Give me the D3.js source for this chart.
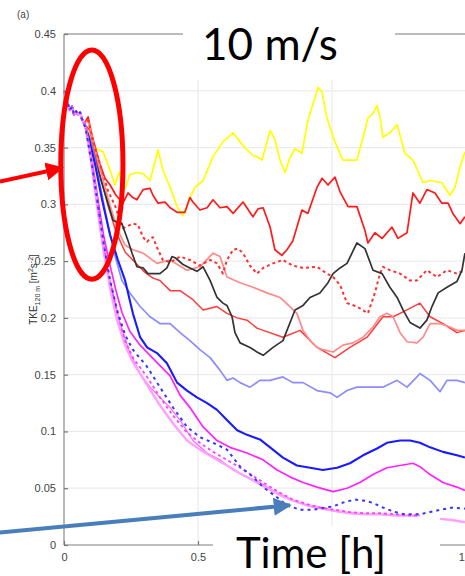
<!DOCTYPE html>
<html>
<head>
<meta charset="utf-8">
<script src="https://cdn.jsdelivr.net/npm/d3@7"></script>
<style>
  html, body { margin: 0; padding: 0; background: #fff; }
  svg { display: block; }
</style>
</head>
<body>
<svg id="chart" width="465" height="576"></svg>
<script>
// TKE at 120 m [m^2 s^-2] against time [h]; every run shares the same spin-up segment.
const startTKE = [[0,0.400],[0.007,0.394],[0.015,0.388],[0.022,0.383],[0.03,0.386],[0.037,0.379],[0.045,0.382],[0.052,0.379],[0.06,0.381],[0.067,0.375],[0.075,0.371]];

const yellowTKE = [[0.09,0.367],[0.108,0.352],[0.123,0.349],[0.146,0.346],[0.172,0.330],[0.19,0.317],[0.205,0.328],[0.228,0.314],[0.246,0.326],[0.272,0.328],[0.295,0.327],[0.321,0.321],[0.351,0.348],[0.369,0.330],[0.396,0.315],[0.422,0.298],[0.444,0.290],[0.47,0.306],[0.489,0.315],[0.519,0.321],[0.556,0.342],[0.593,0.355],[0.631,0.363],[0.657,0.355],[0.683,0.348],[0.705,0.343],[0.72,0.342],[0.739,0.339],[0.769,0.365],[0.787,0.357],[0.806,0.339],[0.825,0.328],[0.843,0.341],[0.862,0.349],[0.888,0.345],[0.91,0.374],[0.937,0.394],[0.948,0.403],[0.963,0.399],[0.981,0.376],[1.011,0.355],[1.041,0.339],[1.093,0.339],[1.116,0.359],[1.134,0.376],[1.153,0.380],[1.168,0.387],[1.179,0.377],[1.19,0.359],[1.216,0.363],[1.243,0.370],[1.272,0.345],[1.302,0.339],[1.34,0.319],[1.366,0.321],[1.41,0.319],[1.44,0.308],[1.459,0.315],[1.478,0.333],[1.496,0.346]];

const redTKE = [[0.09,0.377],[0.104,0.361],[0.119,0.348],[0.134,0.335],[0.153,0.323],[0.172,0.317],[0.194,0.308],[0.22,0.301],[0.239,0.31],[0.257,0.306],[0.272,0.304],[0.295,0.313],[0.321,0.314],[0.332,0.308],[0.351,0.301],[0.377,0.302],[0.396,0.297],[0.422,0.293],[0.451,0.293],[0.47,0.306],[0.481,0.302],[0.507,0.295],[0.534,0.297],[0.556,0.304],[0.582,0.297],[0.608,0.298],[0.631,0.292],[0.668,0.302],[0.705,0.289],[0.724,0.296],[0.743,0.297],[0.769,0.28],[0.787,0.26],[0.813,0.255],[0.832,0.26],[0.854,0.268],[0.888,0.295],[0.91,0.292],[0.944,0.315],[0.963,0.323],[0.985,0.317],[1.011,0.324],[1.03,0.311],[1.06,0.298],[1.093,0.298],[1.123,0.277],[1.134,0.266],[1.16,0.275],[1.187,0.270],[1.224,0.280],[1.246,0.270],[1.28,0.275],[1.302,0.310],[1.328,0.301],[1.354,0.313],[1.384,0.310],[1.41,0.301],[1.433,0.301],[1.451,0.292],[1.478,0.283],[1.496,0.289]];

const redDottedTKE = [[0.09,0.374],[0.116,0.349],[0.142,0.33],[0.164,0.312],[0.19,0.299],[0.22,0.279],[0.257,0.283],[0.276,0.282],[0.295,0.271],[0.31,0.267],[0.321,0.27],[0.332,0.271],[0.347,0.262],[0.369,0.251],[0.396,0.249],[0.433,0.254],[0.47,0.251],[0.507,0.246],[0.545,0.251],[0.571,0.248],[0.593,0.239],[0.608,0.251],[0.631,0.26],[0.649,0.261],[0.668,0.257],[0.694,0.246],[0.72,0.239],[0.743,0.244],[0.78,0.248],[0.817,0.251],[0.854,0.246],[0.892,0.244],[0.944,0.245],[0.981,0.239],[1.004,0.236],[1.03,0.229],[1.056,0.213],[1.093,0.21],[1.134,0.204],[1.16,0.222],[1.179,0.239],[1.19,0.245],[1.216,0.242],[1.254,0.239],[1.291,0.233],[1.317,0.233],[1.354,0.242],[1.392,0.236],[1.429,0.242],[1.466,0.239],[1.496,0.242]];

const paleRedTKE = [[0.09,0.374],[0.116,0.348],[0.146,0.321],[0.172,0.299],[0.201,0.277],[0.228,0.264],[0.257,0.26],[0.295,0.257],[0.347,0.248],[0.396,0.251],[0.459,0.242],[0.507,0.245],[0.556,0.257],[0.582,0.254],[0.608,0.236],[0.657,0.231],[0.705,0.227],[0.757,0.222],[0.806,0.218],[0.843,0.21],[0.869,0.204],[0.892,0.189],[0.918,0.18],[0.944,0.174],[0.966,0.172],[1.004,0.17],[1.041,0.176],[1.078,0.178],[1.116,0.183],[1.153,0.192],[1.179,0.201],[1.205,0.204],[1.228,0.201],[1.254,0.187],[1.28,0.179],[1.317,0.178],[1.34,0.183],[1.366,0.195],[1.403,0.195],[1.44,0.192],[1.466,0.189],[1.496,0.189]];

const midRedTKE = [[0.097,0.365],[0.134,0.326],[0.164,0.299],[0.194,0.276],[0.228,0.258],[0.265,0.249],[0.302,0.24],[0.332,0.235],[0.358,0.233],[0.396,0.224],[0.433,0.224],[0.481,0.216],[0.519,0.207],[0.571,0.21],[0.608,0.204],[0.646,0.2],[0.683,0.198],[0.72,0.191],[0.743,0.189],[0.817,0.183],[0.881,0.189],[0.944,0.174],[1.011,0.165],[1.067,0.174],[1.131,0.183],[1.19,0.201],[1.228,0.201],[1.28,0.207],[1.328,0.213],[1.366,0.201],[1.414,0.195],[1.466,0.187],[1.496,0.189]];

const blackTKE = [[0.097,0.357],[0.116,0.339],[0.127,0.33],[0.146,0.315],[0.164,0.301],[0.183,0.286],[0.201,0.284],[0.216,0.283],[0.239,0.268],[0.254,0.257],[0.272,0.245],[0.295,0.244],[0.313,0.239],[0.358,0.239],[0.384,0.244],[0.403,0.254],[0.414,0.253],[0.444,0.247],[0.47,0.244],[0.496,0.241],[0.519,0.245],[0.545,0.233],[0.571,0.218],[0.593,0.213],[0.608,0.211],[0.627,0.201],[0.638,0.187],[0.657,0.178],[0.694,0.174],[0.72,0.17],[0.743,0.167],[0.78,0.174],[0.817,0.18],[0.862,0.207],[0.892,0.211],[0.918,0.218],[0.955,0.222],[0.985,0.231],[1.004,0.239],[1.03,0.244],[1.056,0.248],[1.093,0.266],[1.123,0.261],[1.153,0.242],[1.187,0.239],[1.216,0.227],[1.243,0.218],[1.265,0.207],[1.291,0.196],[1.328,0.191],[1.354,0.198],[1.373,0.21],[1.396,0.222],[1.429,0.227],[1.466,0.232],[1.485,0.242],[1.496,0.257]];

const paleBlueTKE = [[0.097,0.357],[0.119,0.335],[0.142,0.308],[0.164,0.282],[0.19,0.255],[0.216,0.233],[0.246,0.222],[0.284,0.21],[0.321,0.201],[0.358,0.195],[0.396,0.195],[0.433,0.187],[0.47,0.18],[0.507,0.172],[0.545,0.165],[0.582,0.154],[0.608,0.145],[0.631,0.147],[0.657,0.143],[0.694,0.139],[0.731,0.145],[0.769,0.145],[0.817,0.148],[0.854,0.143],[0.892,0.143],[0.944,0.136],[0.993,0.134],[1.019,0.13],[1.056,0.136],[1.093,0.139],[1.142,0.139],[1.19,0.139],[1.243,0.145],[1.28,0.139],[1.317,0.148],[1.328,0.151],[1.366,0.145],[1.403,0.135],[1.429,0.145],[1.466,0.145],[1.496,0.143]];

const blueTKE = [[0.09,0.361],[0.116,0.335],[0.142,0.304],[0.172,0.273],[0.201,0.251],[0.228,0.233],[0.257,0.204],[0.284,0.183],[0.31,0.174],[0.347,0.169],[0.384,0.16],[0.422,0.143],[0.459,0.136],[0.496,0.13],[0.534,0.125],[0.571,0.119],[0.608,0.11],[0.646,0.101],[0.683,0.097],[0.731,0.093],[0.769,0.086],[0.817,0.077],[0.869,0.07],[0.918,0.068],[0.966,0.066],[1.019,0.068],[1.067,0.072],[1.116,0.079],[1.168,0.085],[1.205,0.09],[1.254,0.092],[1.291,0.092],[1.328,0.09],[1.366,0.086],[1.414,0.082],[1.466,0.079],[1.496,0.077]];

const magentaTKE = [[0.082,0.367],[0.104,0.339],[0.127,0.304],[0.149,0.271],[0.172,0.246],[0.194,0.224],[0.216,0.205],[0.246,0.188],[0.284,0.176],[0.321,0.167],[0.358,0.158],[0.396,0.149],[0.433,0.132],[0.47,0.121],[0.519,0.104],[0.571,0.092],[0.619,0.086],[0.683,0.081],[0.743,0.075],[0.795,0.066],[0.843,0.06],[0.892,0.055],[0.944,0.051],[1.004,0.047],[1.056,0.05],[1.104,0.055],[1.153,0.062],[1.205,0.068],[1.254,0.07],[1.302,0.072],[1.328,0.069],[1.366,0.062],[1.414,0.055],[1.466,0.051],[1.496,0.048]];

const blueDottedTKE = [[0.082,0.365],[0.104,0.335],[0.127,0.299],[0.149,0.264],[0.172,0.233],[0.198,0.207],[0.228,0.185],[0.257,0.172],[0.31,0.157],[0.358,0.139],[0.407,0.121],[0.459,0.104],[0.507,0.095],[0.556,0.09],[0.608,0.084],[0.657,0.069],[0.705,0.06],[0.743,0.051],[0.795,0.042],[0.832,0.035],[0.881,0.031],[0.929,0.031],[0.974,0.033],[1.004,0.034],[1.049,0.038],[1.086,0.04],[1.123,0.039],[1.153,0.037],[1.19,0.033],[1.235,0.029],[1.272,0.027],[1.328,0.027],[1.366,0.029],[1.403,0.031],[1.451,0.033],[1.496,0.032]];

const magentaDottedTKE = [[0.082,0.367],[0.104,0.338],[0.127,0.299],[0.149,0.264],[0.172,0.232],[0.198,0.205],[0.228,0.18],[0.257,0.165],[0.31,0.148],[0.358,0.13],[0.407,0.114],[0.459,0.099],[0.507,0.09],[0.556,0.082],[0.608,0.075],[0.657,0.068],[0.705,0.061],[0.757,0.053],[0.806,0.046],[0.854,0.04],[0.907,0.036],[0.955,0.033],[1.011,0.031],[1.067,0.029],[1.123,0.028],[1.179,0.028],[1.235,0.027],[1.291,0.026],[1.328,0.026]];

const paleMagentaTKE = [[0.082,0.366],[0.104,0.335],[0.127,0.295],[0.149,0.258],[0.172,0.226],[0.198,0.198],[0.228,0.176],[0.257,0.161],[0.31,0.141],[0.358,0.123],[0.407,0.107],[0.459,0.092],[0.507,0.084],[0.556,0.077],[0.608,0.07],[0.657,0.063],[0.705,0.057],[0.757,0.05],[0.806,0.044],[0.854,0.039],[0.907,0.035],[0.955,0.033],[1.011,0.03],[1.067,0.028],[1.123,0.027],[1.179,0.027],[1.235,0.026],[1.291,0.026],[1.328,0.026],null,[1.403,0.023],[1.448,0.022],[1.496,0.02]];

const lightMagentaTKE = [[0.082,0.366],[0.104,0.33],[0.127,0.29],[0.149,0.255],[0.172,0.233],[0.209,0.195],[0.246,0.169],[0.284,0.151],[0.321,0.139],[0.358,0.13],[0.396,0.121],[0.433,0.11],[0.481,0.092],[0.534,0.081],[0.582,0.075],[0.631,0.066],[0.683,0.06],[0.731,0.055],[0.78,0.048],[0.832,0.042],[0.881,0.037],[0.929,0.033],[0.981,0.031],[1.03,0.029],[1.086,0.028],[1.142,0.027],[1.198,0.027],[1.254,0.026],[1.328,0.026]];

const yTicks = [0, 0.05, 0.1, 0.15, 0.2, 0.25, 0.3, 0.35, 0.4, 0.45];
const xTicks = [0, 0.5, 1, 1.5];
// the "1" label sits under the time caption, so only these are lettered
const xTickLabels = [0, 0.5, 1.5];

// Line styles, back to front
const series = [
  { data: yellowTKE,        color: "#ffff00", width: 1.7 },
  { data: redTKE,           color: "#ff1a1a", width: 1.7 },
  { data: midRedTKE,        color: "#ff3b3b", width: 1.5 },
  { data: paleRedTKE,       color: "#ff8a8a", width: 1.7 },
  { data: redDottedTKE,     color: "#ff3030", width: 2,   dash: "3,3" },
  { data: blackTKE,         color: "#333333", width: 1.7 },
  { data: paleBlueTKE,      color: "#8c8cff", width: 1.7 },
  { data: blueTKE,          color: "#1a1aff", width: 2.1 },
  { data: magentaTKE,       color: "#ff22ff", width: 1.7 },
  { data: lightMagentaTKE,  color: "#ff66ff", width: 1.2 },
  { data: paleMagentaTKE,   color: "#ffa0ff", width: 2.4 },
  { data: magentaDottedTKE, color: "#ff40ff", width: 1.8, dash: "3,3" },
  { data: blueDottedTKE,    color: "#3535ff", width: 2,   dash: "3,4" }
];

const svg = d3.select("#chart");
const x = d3.scaleLinear().domain([0, 1.5]).range([64, 466]);
const y = d3.scaleLinear().domain([0, 0.45]).range([545, 34]);

// grid
svg.append("g").selectAll("line.h").data(yTicks.slice(1)).join("line")
  .attr("x1", x(0)).attr("x2", x(1.5))
  .attr("y1", d => y(d)).attr("y2", d => y(d))
  .attr("stroke", "#ebebeb").attr("stroke-width", 1.2);
svg.append("g").selectAll("line.v").data(xTicks.slice(1)).join("line")
  .attr("x1", d => x(d)).attr("x2", d => x(d))
  .attr("y1", y(0)).attr("y2", y(0.45))
  .attr("stroke", "#ebebeb").attr("stroke-width", 1.2);

// series
const line = d3.line()
  .defined(d => d !== null)
  .x(d => x(d[0])).y(d => y(d[1]));
svg.append("g").selectAll("path").data(series).join("path")
  .attr("d", s => line(startTKE.concat(s.data)))
  .attr("fill", "none")
  .attr("stroke", s => s.color)
  .attr("stroke-width", s => s.width)
  .attr("stroke-dasharray", s => s.dash || null)
  .attr("stroke-linejoin", "round");

// frame
const frame = svg.append("g").attr("stroke", "#a8a8a8").attr("stroke-width", 1.6);
frame.append("line").attr("x1", x(0)).attr("x2", x(0)).attr("y1", y(0.45)).attr("y2", y(0));
frame.append("line").attr("x1", x(0)).attr("x2", x(1.5)).attr("y1", y(0)).attr("y2", y(0));
frame.append("line").attr("x1", x(0)).attr("x2", x(1.5)).attr("y1", y(0.45)).attr("y2", y(0.45));

// axes with inward ticks
const fontTicks = "'Liberation Sans', Arial, sans-serif";
const yAxis = svg.append("g").attr("transform", `translate(${x(0)},0)`)
  .call(d3.axisLeft(y).tickValues(yTicks).tickSize(-4).tickPadding(8)
    .tickFormat(d => String(+d.toFixed(2))));
const xAxis = svg.append("g").attr("transform", `translate(0,${y(0)})`)
  .call(d3.axisBottom(x).tickValues(xTicks).tickSize(-4).tickPadding(8)
    .tickFormat(d => xTickLabels.includes(d) ? String(d) : ""));
[yAxis, xAxis].forEach(g => {
  g.select(".domain").remove();
  g.selectAll(".tick line").attr("stroke", "#777").attr("stroke-width", 1.2);
  g.selectAll(".tick text").attr("fill", "#444")
    .attr("font-family", fontTicks).attr("font-size", 11);
});

// panel tag
svg.append("text").attr("x", 17).attr("y", 18)
  .attr("font-family", fontTicks).attr("font-size", 10).attr("fill", "#444")
  .text("(a)");

// y-axis title
const yTitle = svg.append("text")
  .attr("transform", `translate(37,${(y(0.2) + y(0.25)) / 2}) rotate(-90)`)
  .attr("text-anchor", "middle")
  .attr("font-family", fontTicks).attr("font-size", 10).attr("fill", "#333");
yTitle.append("tspan").text("TKE");
yTitle.append("tspan").attr("font-size", 7).attr("dy", 3).text("120 m");
yTitle.append("tspan").attr("dy", -3).text(" [m");
yTitle.append("tspan").attr("font-size", 7).attr("dy", -4).text("2");
yTitle.append("tspan").attr("dy", 4).text("s");
yTitle.append("tspan").attr("font-size", 7).attr("dy", -4).text("-2");
yTitle.append("tspan").attr("dy", 4).text("]");

// caption boxes
const bigFont = "Lato, 'Open Sans', sans-serif";
svg.append("rect").attr("x", 183).attr("y", 0).attr("width", 212).attr("height", 80).attr("fill", "#fff");
svg.append("text").attr("x", 270).attr("y", 60).attr("text-anchor", "middle")
  .attr("font-family", bigFont).attr("font-size", 44).attr("fill", "#000")
  .text("10 m/s");
svg.append("rect").attr("x", 213).attr("y", 526).attr("width", 227).attr("height", 50).attr("fill", "#fff");
svg.append("text").attr("x", 311).attr("y", 568).attr("text-anchor", "middle")
  .attr("font-family", bigFont).attr("font-size", 42).attr("fill", "#000")
  .text("Time [h]");

// highlight of the common spin-up
svg.append("ellipse")
  .attr("cx", x(0.104)).attr("cy", y(0.335))
  .attr("rx", x(0.116) - x(0)).attr("ry", y(0) - y(0.101))
  .attr("fill", "none").attr("stroke", "#ff0000").attr("stroke-width", 5);

// arrows
const defs = svg.append("defs");
function marker(id, color) {
  defs.append("marker").attr("id", id)
    .attr("viewBox", "0 0 10 10").attr("refX", 9).attr("refY", 5)
    .attr("markerWidth", 4.5).attr("markerHeight", 4.5)
    .attr("markerUnits", "strokeWidth").attr("orient", "auto")
    .append("path").attr("d", "M0,0 L10,5 L0,10 z").attr("fill", color);
}
marker("headRed", "#ff0000");
marker("headBlue", "#4a7ebb");
svg.append("line")
  .attr("x1", x(-0.239)).attr("y1", y(0.320))
  .attr("x2", x(-0.007)).attr("y2", y(0.332))
  .attr("stroke", "#ff0000").attr("stroke-width", 4)
  .attr("marker-end", "url(#headRed)");
svg.append("line")
  .attr("x1", x(-0.239)).attr("y1", y(0.011))
  .attr("x2", x(0.843)).attr("y2", y(0.035))
  .attr("stroke", "#4a7ebb").attr("stroke-width", 4)
  .attr("marker-end", "url(#headBlue)");
</script>
</body>
</html>
